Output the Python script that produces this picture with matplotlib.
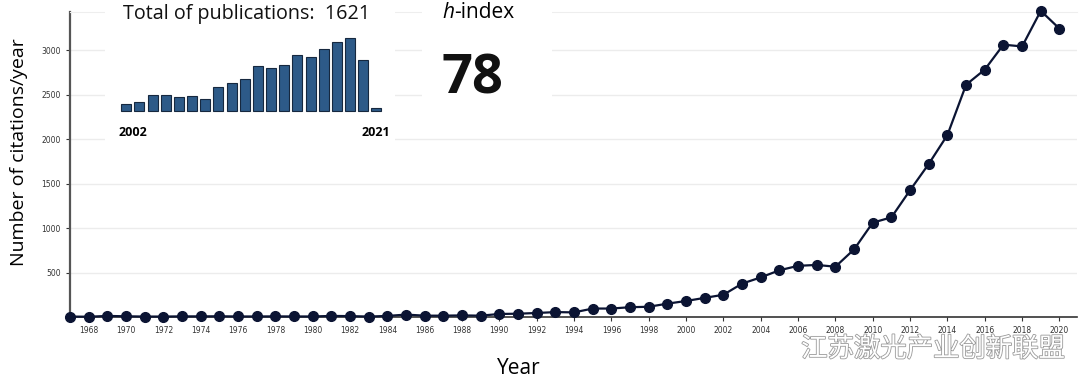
import matplotlib
matplotlib.use('Agg')
import matplotlib.pyplot as plt
import matplotlib.patheffects as pe
import numpy as np

# citations per year
years = list(range(1967, 2021))
citations = [5, 3, 12, 8, 5, 5, 7, 7, 8, 6, 6, 7, 6, 6, 12, 10, 5, 12,
             27, 15, 15, 18, 15, 34, 37, 45, 55, 52,
             95, 95, 110, 115, 150, 180, 215, 250, 375, 445, 525, 575,
             585, 565, 760, 1060, 1120, 1425, 1720, 2045, 2610, 2780,
             3060, 3040, 3440, 3240]

# publications per year (inset)
pub_years = list(range(2002, 2022))
publications = [15, 19, 33, 32, 28, 30, 24, 49, 56, 65, 91, 86, 92, 112,
                109, 125, 139, 146, 102, 7]

total_pubs = 1621
h_index = 78

xticks = list(range(1968, 2021, 2))
yticks = [500, 1000, 1500, 2000, 2500, 3000]

W, H = 1080, 381
fig = plt.figure(figsize=(W / 100, H / 100), dpi=100)


def box(x0, y0, x1, y1):
    # pixel box (top-left origin) -> figure fraction
    return [x0 / W, 1 - y1 / H, (x1 - x0) / W, (y1 - y0) / H]


ax = fig.add_axes(box(70, 12, 1077, 317))
ax.plot(years, citations, color='#0b1433', lw=1.6, marker='o', ms=7,
        clip_on=False, zorder=3)
ax.set_xlim(1967, 2020.94)
ax.set_ylim(0, 3427)
ax.set_xticks(xticks)
ax.set_yticks(yticks)
ax.tick_params(axis='both', labelsize=5.5, length=3, width=0.8, colors='#333333')
ax.grid(axis='y', color='#ececec', lw=1)
ax.set_axisbelow(True)
ax.spines['right'].set_visible(False)
ax.spines['top'].set_color('#eeeeee')
ax.spines['left'].set_color('#555555')
ax.spines['left'].set_linewidth(1.6)
ax.spines['bottom'].set_color('#333333')
ax.spines['bottom'].set_linewidth(1.2)
ax.set_ylabel('Number of citations/year', fontsize=14, family='Open Sans')
ax.yaxis.set_label_coords(-42 / 1007, (317 - 152) / 305)
ax.set_xlabel('Year', fontsize=15, family='Open Sans')
ax.xaxis.set_label_coords((519 - 70) / 1007, (317 - 358) / 305)

# inset bar chart of publications
ax_in = fig.add_axes(box(105, 0, 395, 150))
ax_in.bar(pub_years, publications, width=0.76, color='#2d5a88',
          edgecolor='#16283f', lw=0.8)
ax_in.set_xlim(2000.38, 2022.42)
ax_in.set_ylim(-78, 222)
ax_in.set_xticks([])
ax_in.set_yticks([])
for s in ax_in.spines.values():
    s.set_visible(False)
ax_in.text(2002.5, -42, '2002', ha='center', va='center', fontsize=9,
           fontweight='bold', family='Open Sans')
ax_in.text(2021, -42, '2021', ha='center', va='center', fontsize=9,
           fontweight='bold', family='Open Sans')
ax_in.text(0.487, 0.905, f'Total of publications:  {total_pubs}',
           transform=ax_in.transAxes, ha='center', va='center', fontsize=14.2,
           family='Open Sans', color='#111111')

# h-index box
ax_h = fig.add_axes(box(422, 0, 552, 100))
ax_h.set_xticks([])
ax_h.set_yticks([])
for s in ax_h.spines.values():
    s.set_visible(False)
ax_h.text(0.16, 0.88, 'h', transform=ax_h.transAxes, ha='left', va='center',
          fontsize=15, style='italic', family='Open Sans')
ax_h.text(0.25, 0.88, '-index', transform=ax_h.transAxes, ha='left',
          va='center', fontsize=15, family='Open Sans')
ax_h.text(0.15, 0.20, str(h_index), transform=ax_h.transAxes, ha='left',
          va='center', fontsize=39, fontweight='bold', family='Open Sans',
          color='#111111')

# watermark
fig.text(933 / W, 1 - 349 / H, '江苏激光产业创新联盟', ha='center', va='center',
         fontsize=19, color='white', family=['Noto Sans CJK SC', 'DejaVu Sans'],
         path_effects=[pe.withStroke(linewidth=1.2, foreground='#9a9a9a')])

fig.savefig('out.png', dpi=100)
